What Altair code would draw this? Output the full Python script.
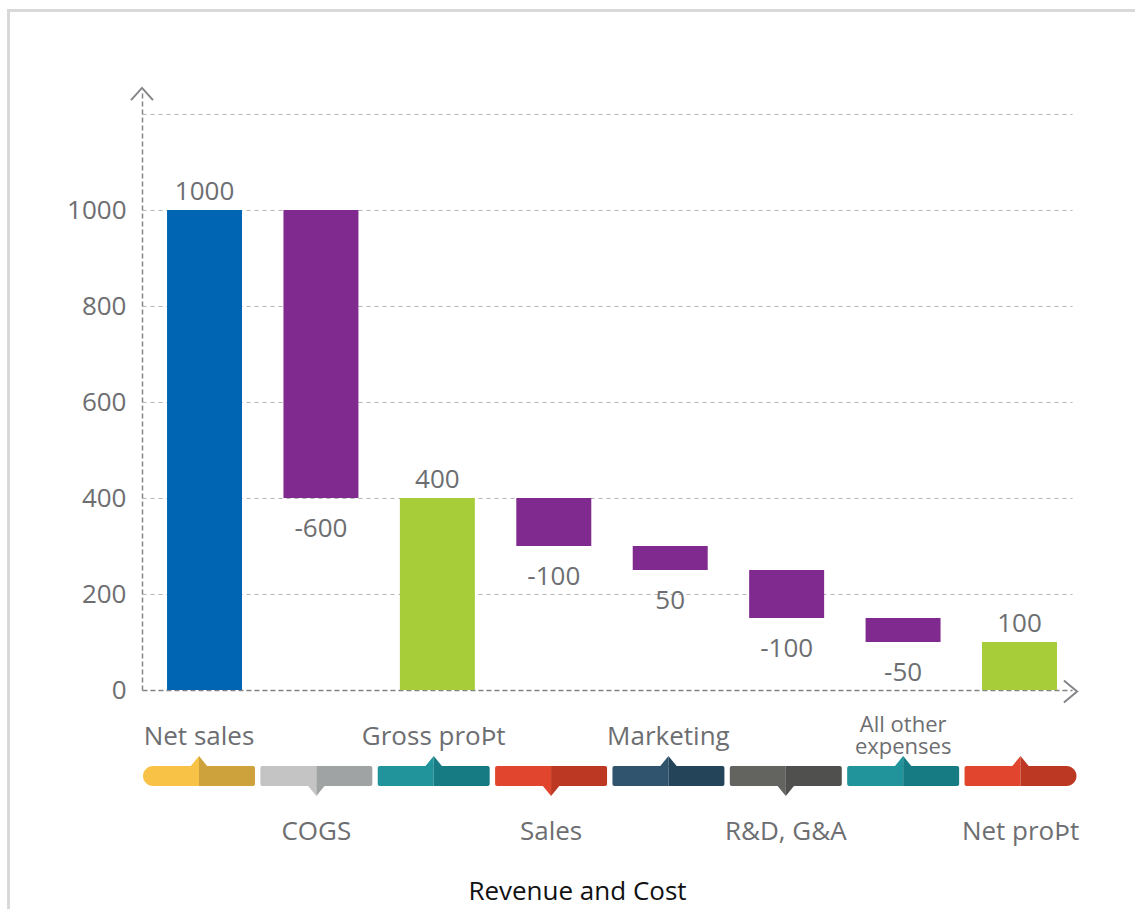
import altair as alt
import pandas as pd

# ---------------- data ----------------
categories = ["Net sales", "COGS", "Gross proÞt", "Sales", "Marketing",
              "R&D, G&A", "All other expenses", "Net proÞt"]
amounts = [1000, -600, 400, -100, -50, -100, -50, 100]
kinds = ["total", "delta", "total", "delta", "delta", "delta", "delta", "total"]
value_labels = ["1000", "-600", "400", "-100", "50", "-100", "-50", "100"]
bar_colors = ["#0066b3", "#80298f", "#a7ce39", "#80298f",
              "#80298f", "#80298f", "#80298f", "#a7ce39"]

band_names = ["Net sales", "COGS", "Gross proÞt", "Sales", "Marketing",
              "R&D, G&A", "All other\nexpenses", "Net proÞt"]
band_side = ["above", "below", "above", "below", "above", "below", "above", "below"]
band_pointer = ["up", "down", "up", "down", "up", "down", "up", "up"]
band_light = ["#f7c245", "#c4c4c4", "#21949b", "#e2452e",
              "#30546d", "#63635f", "#21949b", "#e2452e"]
band_dark = ["#cda13b", "#a0a3a3", "#177b83", "#bc3822",
             "#24445a", "#50504e", "#177b83", "#bc3822"]

chart_title = "Revenue and Cost"

# ---------------- derived table ----------------
starts, ends, anchors = [], [], []
running = 0
for a, k in zip(amounts, kinds):
    if k == "total":
        s, e = 0, a
        running = a
    else:
        s, e = running, running + a
        running = e
    starts.append(s)
    ends.append(e)
    anchors.append(e if k == "total" else min(s, e))

df = pd.DataFrame({
    "cat": categories, "start": starts, "end": ends, "anchor": anchors,
    "kind": kinds, "label": value_labels, "color": bar_colors,
})
band_df = pd.DataFrame({
    "idx": list(range(len(band_names))), "name": band_names, "side": band_side,
    "pointer": band_pointer, "light": band_light, "dark": band_dark,
})
band_df["multi"] = band_df["name"].str.contains("\n")

FONT = "Open Sans"
GRAY = "#6d6e71"
AXIS_GRAY = "#858589"

W, H = 930, 600

xscale = alt.Scale(domain=categories, paddingInner=0.356, paddingOuter=0.172, align=0.625)
yscale = alt.Scale(domain=[0, 1250], nice=False)

base = alt.Chart(df)

bars = base.mark_bar().encode(
    x=alt.X("cat:N", sort=categories, scale=xscale,
            axis=alt.Axis(labels=False, ticks=False, title=None, grid=False,
                          domainDash=[5, 3], domainColor=AXIS_GRAY, domainWidth=1.5)),
    y=alt.Y("start:Q", scale=yscale,
            axis=alt.Axis(values=[0, 200, 400, 600, 800, 1000, 1200], format="d",
                          labelExpr="datum.value > 1000 ? '' : datum.label",
                          grid=True, gridDash=[4, 4], gridColor="#b4b4b4", gridWidth=1,
                          domainDash=[5, 3], domainColor=AXIS_GRAY, domainWidth=1.5,
                          ticks=False, labelFontSize=26, labelFont=FONT,
                          labelColor=GRAY, labelPadding=16, title=None)),
    y2="end:Q",
    color=alt.Color("color:N", scale=None),
)

lab_above = base.transform_filter("datum.kind == 'total'").mark_text(
    font=FONT, fontSize=26, color=GRAY, baseline="alphabetic", dy=-10
).encode(x=alt.X("cat:N", sort=categories, scale=xscale), y=alt.Y("anchor:Q", scale=yscale),
         text="label:N")

lab_below = base.transform_filter("datum.kind == 'delta'").mark_text(
    font=FONT, fontSize=26, color=GRAY, baseline="alphabetic", dy=39
).encode(x=alt.X("cat:N", sort=categories, scale=xscale), y=alt.Y("anchor:Q", scale=yscale),
         text="label:N")

main = alt.layer(bars, lab_above, lab_below)

# ---------------- decoration (category ribbon) ----------------
pscale = alt.Scale(domain=[-0.5, 7.5], range=[-1.7, 937.2], nice=False, zero=False)
bbase = alt.Chart(band_df).transform_calculate(l="datum.idx - 0.477", r="datum.idx + 0.477")

BY0, BY1 = 676, 696


def px(field):
    return alt.X(field, type="quantitative", scale=pscale, axis=None)


left_mid = bbase.transform_filter("datum.idx > 0").mark_bar(
    cornerRadiusTopLeft=2, cornerRadiusBottomLeft=2
).encode(x=px("l"), x2="idx:Q", y=alt.value(BY0), y2=alt.value(BY1),
         color=alt.Color("light:N", scale=None))
left_first = bbase.transform_filter("datum.idx == 0").mark_bar(
    cornerRadiusTopLeft=10, cornerRadiusBottomLeft=10
).encode(x=px("l"), x2="idx:Q", y=alt.value(BY0), y2=alt.value(BY1),
         color=alt.Color("light:N", scale=None))
right_mid = bbase.transform_filter("datum.idx < 7").mark_bar(
    cornerRadiusTopRight=2, cornerRadiusBottomRight=2
).encode(x=px("idx"), x2="r:Q", y=alt.value(BY0), y2=alt.value(BY1),
         color=alt.Color("dark:N", scale=None))
right_last = bbase.transform_filter("datum.idx == 7").mark_bar(
    cornerRadiusTopRight=10, cornerRadiusBottomRight=10
).encode(x=px("idx"), x2="r:Q", y=alt.value(BY0), y2=alt.value(BY1),
         color=alt.Color("dark:N", scale=None))

UP_L = "M -0.9 0.6 L 0 -0.5 L 0 0.6 Z"
UP_R = "M 0 -0.5 L 0.9 0.6 L 0 0.6 Z"
DN_L = "M -0.9 -0.6 L 0 0.5 L 0 -0.6 Z"
DN_R = "M 0 0.5 L 0.9 -0.6 L 0 -0.6 Z"


def pointer(direction, path, colfield, yv):
    return bbase.transform_filter(f"datum.pointer == '{direction}'").mark_point(
        shape=path, size=400, filled=True, opacity=1, strokeWidth=0
    ).encode(x=px("idx"), y=alt.value(yv), color=alt.Color(f"{colfield}:N", scale=None))


p_up_l = pointer("up", UP_L, "light", 671)
p_up_r = pointer("up", UP_R, "dark", 671)
p_dn_l = pointer("down", DN_L, "light", 701)
p_dn_r = pointer("down", DN_R, "dark", 701)

name_above = bbase.transform_filter("datum.side == 'above' && !datum.multi").mark_text(
    font=FONT, fontSize=26, color=GRAY, baseline="alphabetic"
).encode(x=px("idx"), y=alt.value(655), text="name:N")
name_multi = bbase.transform_filter("datum.multi").mark_text(
    font=FONT, fontSize=22, color=GRAY, baseline="alphabetic", lineBreak="\n", lineHeight=22
).encode(x=px("idx"), y=alt.value(642), text="name:N")
name_below = bbase.transform_filter("datum.side == 'below'").mark_text(
    font=FONT, fontSize=26, color=GRAY, baseline="alphabetic"
).encode(x=px("idx"), y=alt.value(750), text="name:N")

one = pd.DataFrame({"t": [chart_title]})
title = alt.Chart(one).mark_text(font=FONT, fontSize=26, color="#111111", baseline="alphabetic").encode(
    x=alt.value(435.5), y=alt.value(810), text="t:N")

y_arrow = alt.Chart(one).mark_point(
    shape="M -1 0.55 L 0 -0.55 L 1 0.55", size=484, filled=False, color=AXIS_GRAY,
    strokeWidth=2, opacity=1
).encode(x=alt.value(0), y=alt.value(4))
x_arrow = alt.Chart(one).mark_point(
    shape="M -0.6 -1 L 0.6 0 L -0.6 1", size=484, filled=False, color=AXIS_GRAY,
    strokeWidth=2, opacity=1
).encode(x=alt.value(928.5), y=alt.value(601.5))

frame = alt.Chart(one).mark_rect(fillOpacity=0, stroke="#d9d9da", strokeWidth=3).encode(
    x=alt.value(-133.5), x2=alt.value(1010), y=alt.value(-79.5), y2=alt.value(840))

decor = alt.layer(frame, left_mid, left_first, right_mid, right_last,
                  p_up_l, p_up_r, p_dn_l, p_dn_r,
                  name_above, name_multi, name_below, title, y_arrow, x_arrow)

chart = alt.layer(decor, main).resolve_scale(x="independent").properties(
    width=W, height=H,
    padding={"left": 142, "top": 90, "right": 63, "bottom": 219},
    autosize=alt.AutoSizeParams(type="none"),
    background="white",
).configure(font=FONT).configure_view(strokeWidth=0, stroke="transparent")

chart.save("out.html", embed_options={"renderer": "svg", "actions": False})
